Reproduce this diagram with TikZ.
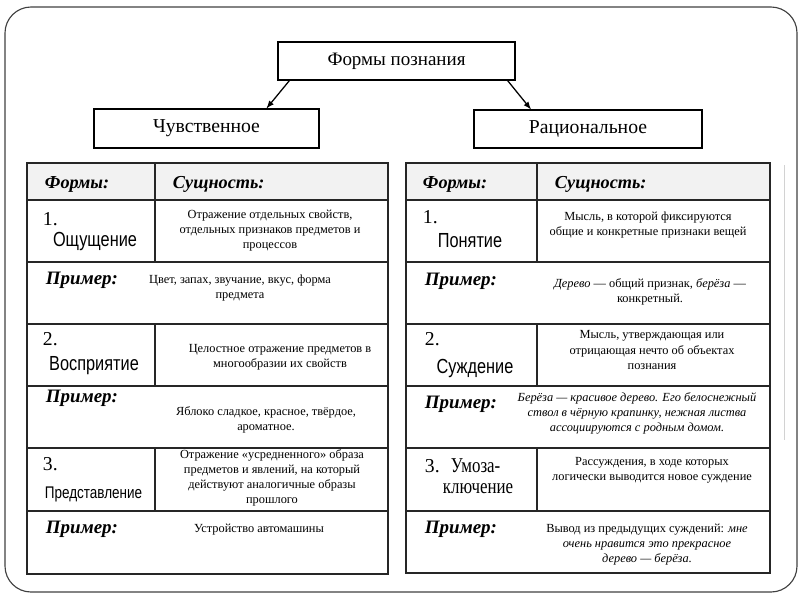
\documentclass[tikz,border=0pt]{standalone}
\usepackage{fontspec}
\setmainfont{Liberation Serif}
\newfontfamily\namefont[FakeStretch=0.8]{Liberation Sans}
\newfontfamily\nameseriffont[FakeStretch=0.8]{Liberation Serif}
\usetikzlibrary{arrows}

\begin{document}
\begin{tikzpicture}[x=0.025cm, y=-0.025cm,
    box/.style={draw, thick, inner sep=0pt, font=\fontsize{13.5}{16}\selectfont},
    grid/.style={line width=0.9pt, draw=black!85},
    head/.style={anchor=base west, font=\bfseries\itshape\fontsize{13}{15}\selectfont},
    example/.style={anchor=base west, font=\bfseries\itshape\fontsize{13.5}{15}\selectfont},
    num/.style={anchor=base west, font=\fontsize{14}{16}\selectfont},
    formname/.style={anchor=base, font=\namefont\fontsize{14.5}{16}\selectfont},
    essence/.style={align=center, inner sep=0pt, font=\fontsize{8.8}{10.7}\selectfont}]
      \useasboundingbox (0, 0) rectangle (800, 600);
      \draw[black!75, line width=0.8pt, rounded corners=0.65cm] (5, 7) rectangle (797, 592);

      \node[box, minimum width=5.925cm, minimum height=0.95cm] (forms) at (396.5, 61) {Формы познания};
      \node[box, minimum width=5.625cm, minimum height=0.975cm, font=\fontsize{14}{16}\selectfont] (sense) at (206.5, 128.5) {Чувственное};
      \node[box, minimum width=5.7cm, minimum height=0.95cm, font=\fontsize{14}{16}\selectfont] (ratio) at (588, 129) {Рациональное};

      \draw[-latex, line width=0.9pt] ([xshift=0.3cm]forms.south west) -- ([xshift=1.5cm]sense.north);
      \draw[-latex, line width=0.9pt] ([xshift=-0.2cm]forms.south east) -- ([xshift=-1.425cm]ratio.north);

      % left table
      \filldraw[grid, fill=gray!10] (27, 163) rectangle (388, 200);
      \draw[grid] (27, 163) rectangle (388, 574);
      \foreach \y in {262, 324, 386, 448, 511}
        \draw[grid] (27, \y) -- (388, \y);
      \draw[grid] (155, 163) -- (155, 262);
      \draw[grid] (155, 324) -- (155, 386);
      \draw[grid] (155, 448) -- (155, 511);

      \node[head] (lforms) at (40, 188) {Формы:};
      \node[head] (lessence) at (168, 188) {Сущность:};

      \node[num] (lnum1) at (38, 225) {1.};
      \node[formname] (lname1) at (95, 246) {Ощущение};
      \node[essence] (less1) at (270, 230.5) {Отражение отдельных свойств,\\ отдельных признаков предметов и\\ процессов};
      \node[example] (lex1) at (41, 284) {Пример:};
      \node[essence] (ltext1) at (240, 288) {Цвет, запах, звучание, вкус, форма\\ предмета};

      \node[num] (lnum2) at (38, 345) {2.};
      \node[formname] (lname2) at (94, 370) {Восприятие};
      \node[essence] (less2) at (280, 357.5) {Целостное отражение предметов в\\ многообразии их свойств};
      \node[example] (lex2) at (41, 402) {Пример:};
      \node[essence] (ltext2) at (266, 419.5) {Яблоко сладкое, красное, твёрдое,\\ ароматное.};

      \node[num] (lnum3) at (38, 470) {3.};
      \node[formname, font=\namefont\fontsize{12}{14}\selectfont] (lname3) at (93.5, 498) {Представление};
      \node[essence] (less3) at (272, 477.5) {Отражение «усредненного» образа\\ предметов и явлений, на который\\ действуют аналогичные образы\\ прошлого};
      \node[example] (lex3) at (41, 533) {Пример:};
      \node[essence] (ltext3) at (259, 530) {Устройство автомашины};

      % right table
      \filldraw[grid, fill=gray!10] (406, 163) rectangle (770, 200);
      \draw[grid] (406, 163) rectangle (770, 573);
      \foreach \y in {262, 324, 386, 448, 511}
        \draw[grid] (406, \y) -- (770, \y);
      \draw[grid] (537, 163) -- (537, 262);
      \draw[grid] (537, 324) -- (537, 386);
      \draw[grid] (537, 448) -- (537, 511);
      \draw[gray!35, line width=0.6pt] (784, 165) -- (784, 440);

      \node[head] (rforms) at (418, 188) {Формы:};
      \node[head] (ressence) at (550, 188) {Сущность:};

      \node[num] (rnum1) at (418, 223) {1.};
      \node[formname] (rname1) at (470, 247) {Понятие};
      \node[essence] (ress1) at (648, 225) {Мысль, в которой фиксируются\\ общие и конкретные признаки вещей};
      \node[example] (rex1) at (420, 285) {Пример:};
      \node[essence] (rtext1) at (650, 292) {\textit{Дерево} — общий признак, \textit{берёза}~—\\ конкретный.};

      \node[num] (rnum2) at (420, 345) {2.};
      \node[formname] (rname2) at (475, 373) {Суждение};
      \node[essence] (ress2) at (652, 350) {Мысль, утверждающая или\\ отрицающая нечто об объектах\\ познания};
      \node[example] (rex2) at (420, 408) {Пример:};
      \node[essence, font=\itshape\fontsize{8.8}{10.7}\selectfont] (rtext2) at (637, 413) {Берёза — красивое дерево. Его белоснежный\\ ствол в чёрную крапинку, нежная листва\\ ассоциируются с родным домом.};

      \node[num] (rnum3) at (420, 472) {3.};
      \node[formname, font=\nameseriffont\fontsize{15}{17}\selectfont, anchor=base west] (rname3a) at (446, 472) {Умоза-};
      \node[formname, font=\nameseriffont\fontsize{15}{17}\selectfont] (rname3b) at (478, 493) {ключение};
      \node[essence] (ress3) at (652, 470.5) {Рассуждения, в ходе которых\\ логически выводится новое суждение};
      \node[example] (rex3) at (420, 533) {Пример:};
      \node[essence] (rtext3) at (647, 545) {Вывод из предыдущих суждений: \textit{мне}\\ \textit{очень нравится это прекрасное}\\ \textit{дерево — берёза.}};

    \end{tikzpicture}
\end{document}
